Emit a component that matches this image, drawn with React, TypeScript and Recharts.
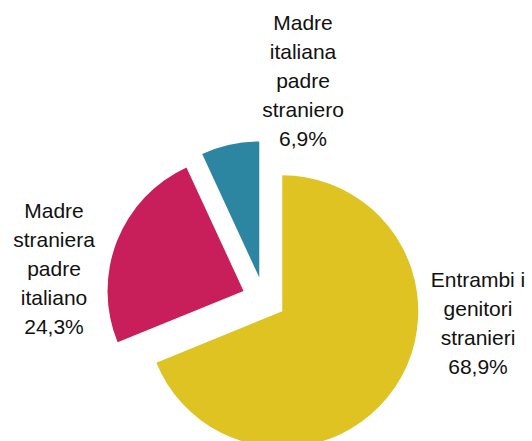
import React from 'react';
import { PieChart, Pie, Cell } from 'recharts';

const categories = [
  'Entrambi i genitori stranieri',
  'Madre straniera padre italiano',
  'Madre italiana padre straniero',
];
const values = [68.9, 24.3, 6.9];
const labelLines = [
  ['Entrambi i', 'genitori', 'stranieri', '68,9%'],
  ['Madre', 'straniera', 'padre', 'italiano', '24,3%'],
  ['Madre', 'italiana', 'padre', 'straniero', '6,9%'],
];
const colors = ['#DFC323', '#C81F5A', '#2D86A1'];

const data = categories.map((name, i) => ({ name, value: values[i] }));

const W = 532;
const H = 441;
const CX = 264;
const CY = 299;
const R = 136;
const EXPLODE = 22;
const LINE = 29;
const FONT = 'Liberation Sans, Arial, sans-serif';
// first-line baseline of each label block (x is the centre)
const labelPos = [
  { x: 478, y: 287 },
  { x: 54, y: 218 },
  { x: 303, y: 30 },
];

const total = values.reduce((a, b) => a + b, 0);
const midAngles = values.map((v, i) => {
  const before = values.slice(0, i).reduce((a, b) => a + b, 0);
  return 90 - (360 * (before + v / 2)) / total;
});

export default function App() {
  return (
    <div style={{ position: 'absolute', left: 0, top: 0, width: W, height: H, background: '#fff' }}>
      <PieChart width={W} height={H} margin={{ top: 0, right: 0, bottom: 0, left: 0 }}>
        {data.map((_, k) => {
          const rad = (midAngles[k] * Math.PI) / 180;
          const cx = CX + EXPLODE * Math.cos(rad);
          const cy = CY - EXPLODE * Math.sin(rad);
          return (
            <Pie
              key={k}
              data={data}
              dataKey="value"
              nameKey="name"
              cx={cx}
              cy={cy}
              innerRadius={0}
              outerRadius={R}
              startAngle={90}
              endAngle={-270}
              paddingAngle={0}
              stroke="none"
              isAnimationActive={false}
              labelLine={false}
              label={(p: any) => {
                if (p.index !== k) return <g />;
                const pos = labelPos[k];
                return (
                  <text
                    x={pos.x}
                    y={pos.y}
                    textAnchor="middle"
                    fontFamily={FONT}
                    fontSize={21}
                    fill="#111"
                  >
                    {labelLines[k].map((t, j) => (
                      <tspan key={j} x={pos.x} y={pos.y + j * LINE}>
                        {t}
                      </tspan>
                    ))}
                  </text>
                );
              }}
            >
              {data.map((_, i) => (
                <Cell key={i} fill={i === k ? colors[i] : 'none'} stroke="none" />
              ))}
            </Pie>
          );
        })}
      </PieChart>
    </div>
  );
}
